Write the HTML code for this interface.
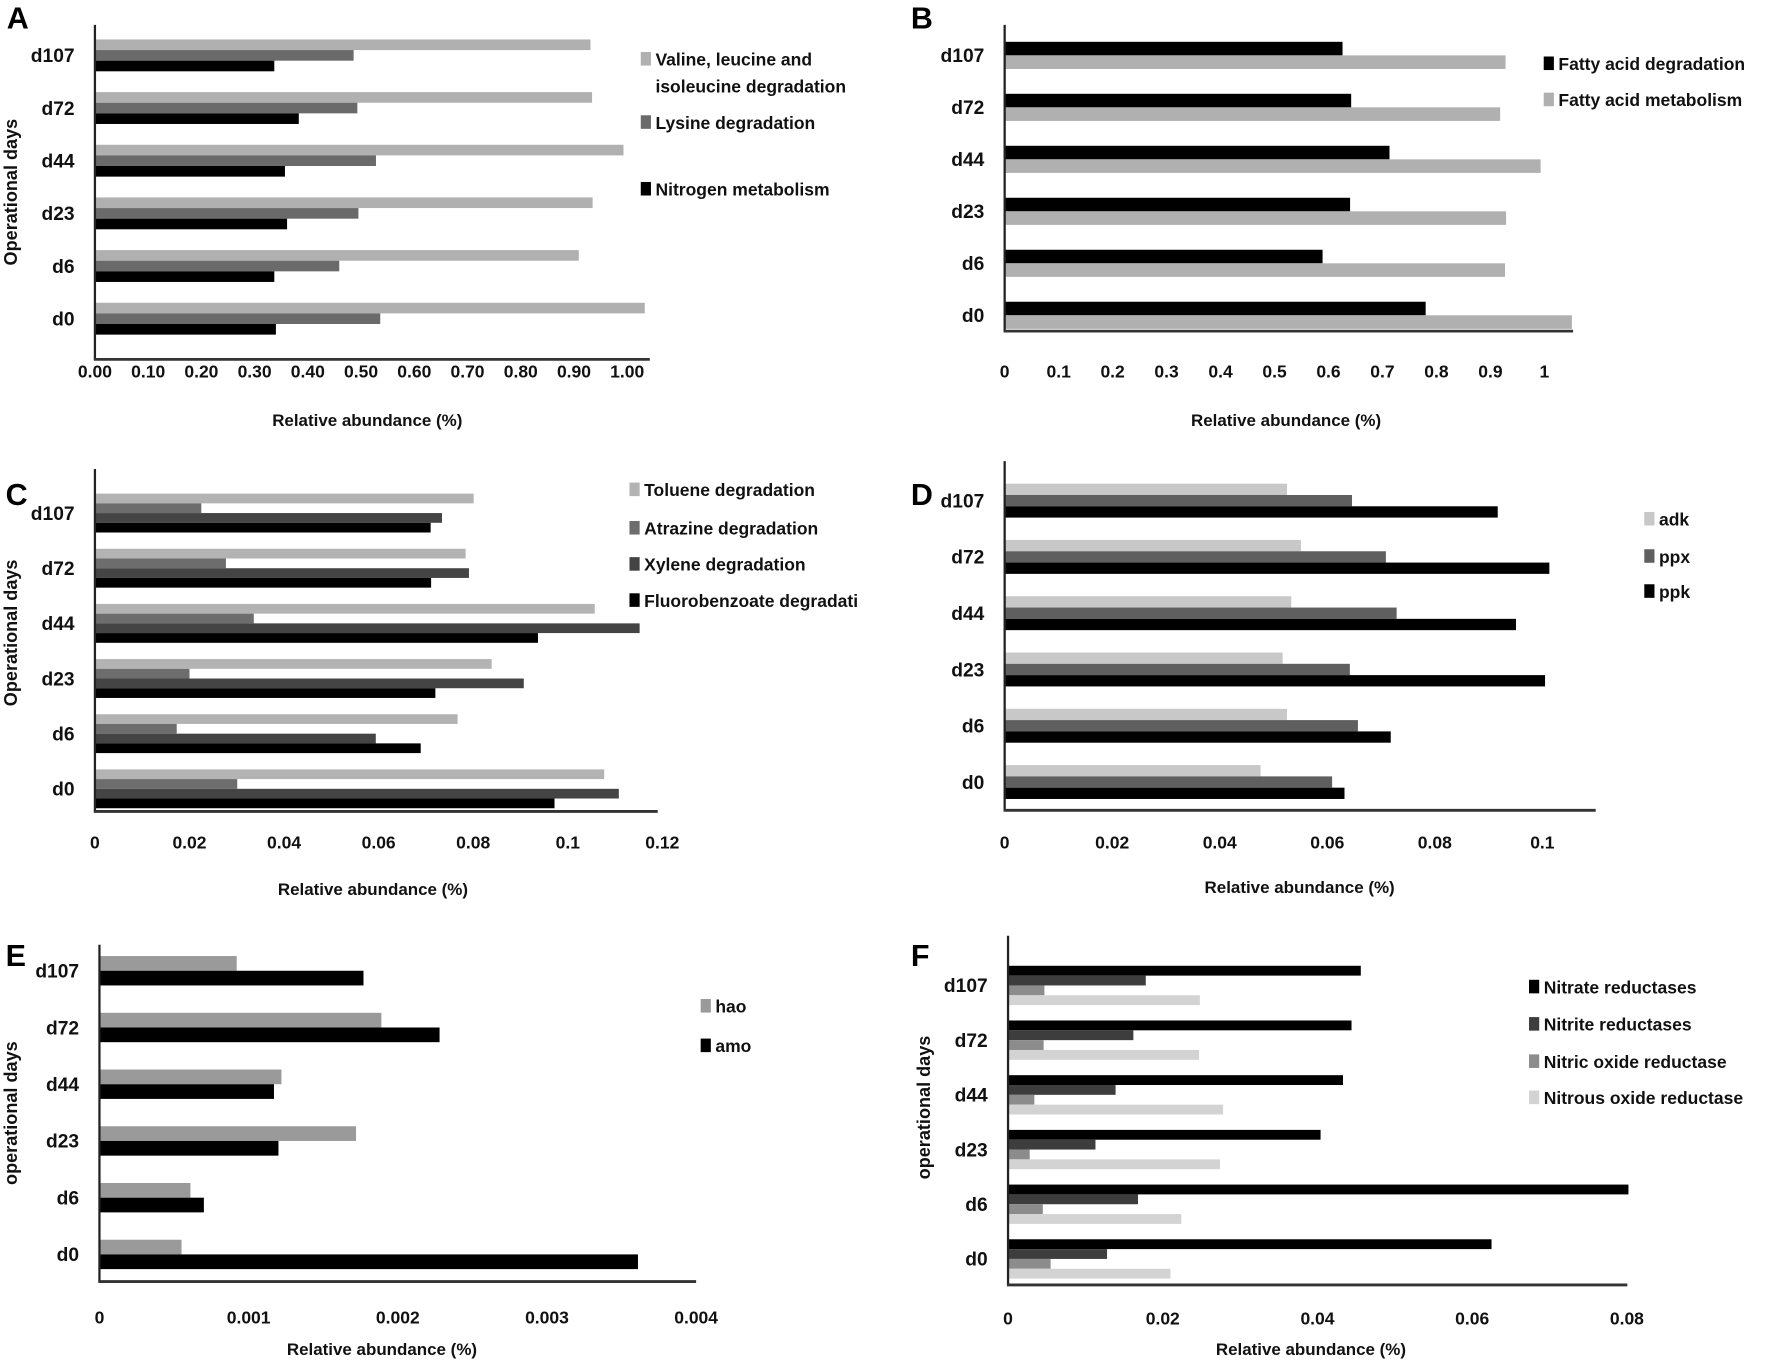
<!DOCTYPE html>
<html><head><meta charset="utf-8"><style>
html,body{margin:0;padding:0;background:#fff;}
svg{display:block;font-family:"Liberation Sans",Arial,sans-serif;font-weight:bold;}
</style></head><body>
<svg id="fig" width="1772" height="1362" viewBox="0 0 1568 1205.2" xmlns="http://www.w3.org/2000/svg"></svg>
<script>
const categories = ["d107","d72","d44","d23","d6","d0"];
// Panel A
const aValine = [0.931,0.934,0.993,0.935,0.909,1.033];
const aLysine = [0.486,0.493,0.528,0.495,0.459,0.536];
const aNitrogen = [0.337,0.383,0.357,0.361,0.337,0.340];
const aTicks = ["0.00","0.10","0.20","0.30","0.40","0.50","0.60","0.70","0.80","0.90","1.00"];
// Panel B
const bFattyDeg = [0.626,0.642,0.713,0.640,0.589,0.780];
const bFattyMet = [0.928,0.918,0.993,0.929,0.927,1.051];
const bTicks = ["0","0.1","0.2","0.3","0.4","0.5","0.6","0.7","0.8","0.9","1"];
// Panel C
const cToluene = [0.0801,0.0784,0.1057,0.0839,0.0767,0.1077];
const cAtrazine = [0.0225,0.0277,0.0336,0.0200,0.0173,0.0301];
const cXylene = [0.0734,0.0791,0.1152,0.0907,0.0594,0.1108];
const cFluoro = [0.0710,0.0711,0.0937,0.0720,0.0689,0.0972];
const cTicks = ["0","0.02","0.04","0.06","0.08","0.1","0.12"];
// Panel D
const dAdk = [0.0525,0.0551,0.0533,0.0517,0.0525,0.0476];
const dPpx = [0.0646,0.0709,0.0729,0.0642,0.0657,0.0609];
const dPpk = [0.0917,0.1013,0.0951,0.1005,0.0718,0.0632];
const dTicks = ["0","0.02","0.04","0.06","0.08","0.1"];
// Panel E
const eHao = [0.00092,0.00189,0.00122,0.00172,0.00061,0.00055];
const eAmo = [0.00177,0.00228,0.00117,0.00120,0.00070,0.00361];
const eTicks = ["0","0.001","0.002","0.003","0.004"];
// Panel F
const fNitrate = [0.0456,0.0444,0.0433,0.0404,0.0802,0.0625];
const fNitrite = [0.0178,0.0162,0.0139,0.0113,0.0168,0.0128];
const fNitric = [0.0047,0.0046,0.0034,0.0028,0.0045,0.0055];
const fNitrous = [0.0248,0.0247,0.0278,0.0274,0.0224,0.0210];

const NS="http://www.w3.org/2000/svg";
const svg=document.getElementById('fig');
function el(tag,attrs,parent){const e=document.createElementNS(NS,tag);for(const k in attrs)e.setAttribute(k,attrs[k]);(parent||svg).appendChild(e);return e;}
function txt(s,attrs,parent){const t=el('text',attrs,parent);t.textContent=s;return t;}

function panel(p){
  const g=el('g',{});
  
  
  const xs=v=>p.x0+v*p.k;
  const l=txt(p.id,{x:p.lx,y:p.ly,'font-size':27,fill:'#000'},g);
  
  
  const ns=p.series.length;
  categories.forEach((c,i)=>{
    const cy=p.c0+i*p.sp;
    const top=cy-ns*p.bh/2;
    p.series.forEach((s,j)=>{
      const r=el('rect',{x:p.x0,y:top+j*p.bh,width:Math.max(0,xs(s.vals[i])-p.x0),height:p.bh,fill:s.color},g);
      
      
    });
    const cl=txt(c,{x:p.x0-18,y:cy+6,'font-size':17,'text-anchor':'end',fill:'#111'},g);
    
    
  });
  const ya=el('line',{x1:p.x0,y1:p.top,x2:p.x0,y2:p.bot,stroke:'#222','stroke-width':2},g);
  
  
  const xa=el('line',{x1:p.x0-1,y1:p.bot,x2:p.xend,y2:p.bot,stroke:'#333','stroke-width':2.5},g);
  
  
  p.ticks.forEach((t,i)=>{
    const tt=txt(t,{x:xs(i*p.step),y:p.ty,'font-size':15.5,'text-anchor':'middle',fill:'#111'},g);
    
    
  });
  const xt=txt('Relative abundance (%)',{x:p.tx,y:p.tty,'font-size':15,'text-anchor':'middle',fill:'#111'},g);
  
  
  if(p.ytitle){
    const yt=txt(p.ytitle,{x:0,y:0,'font-size':16,'text-anchor':'middle',fill:'#111',transform:'translate('+p.yx+','+p.yy+') rotate(-90)'},g);
    
    
  }
  p.legend.forEach(L=>{
    const lg=el('g',{},g);
    
    
    if(L.color) el('rect',{x:p.legx,y:L.y-12,width:9,height:12,fill:L.color},lg);
    txt(L.text,{x:p.legx+13,y:L.y,'font-size':15.5,fill:'#111'},lg);
  });
}

panel({id:'A',lx:6,ly:25,x0:84,k:471,top:22,bot:318,xend:575,c0:49,sp:46.6,bh:9.4,step:0.1,ticks:aTicks,ty:334,tx:325,tty:377,ytitle:'Operational days',yx:15,yy:170,legx:567,
  series:[{key:'valine',vals:aValine,color:'#b0b0b0'},{key:'lysine',vals:aLysine,color:'#6a6a6a'},{key:'nitrogen',vals:aNitrogen,color:'#000'}],
  legend:[{text:'Valine, leucine and',y:58,color:'#b0b0b0'},{text:'isoleucine degradation',y:82},{text:'Lysine degradation',y:114,color:'#6a6a6a'},{text:'Nitrogen metabolism',y:173,color:'#000'}]});
panel({id:'B',lx:806,ly:25,x0:889,k:477.6,top:22,bot:293,xend:1392,c0:49,sp:46,bh:12,step:0.1,ticks:bTicks,ty:334,tx:1138,tty:377,legx:1366,
  series:[{key:'fatty-deg',vals:bFattyDeg,color:'#000'},{key:'fatty-met',vals:bFattyMet,color:'#b0b0b0'}],
  legend:[{text:'Fatty acid degradation',y:62,color:'#000'},{text:'Fatty acid metabolism',y:94,color:'#b0b0b0'}]});
panel({id:'C',lx:5,ly:447,x0:84,k:4184,top:415,bot:718,xend:582,c0:454,sp:48.8,bh:8.6,step:0.02,ticks:cTicks,ty:751,tx:330,tty:792,ytitle:'Operational days',yx:15,yy:560,legx:557,
  series:[{key:'toluene',vals:cToluene,color:'#b3b3b3'},{key:'atrazine',vals:cAtrazine,color:'#6d6d6d'},{key:'xylene',vals:cXylene,color:'#444'},{key:'fluoro',vals:cFluoro,color:'#000'}],
  legend:[{text:'Toluene degradation',y:439,color:'#b3b3b3'},{text:'Atrazine degradation',y:473,color:'#6d6d6d'},{text:'Xylene degradation',y:505,color:'#444'},{text:'Fluorobenzoate degradati',y:537,color:'#000'}]});
panel({id:'D',lx:806,ly:447,x0:889,k:4758,top:408,bot:717,xend:1412,c0:443,sp:49.8,bh:10,step:0.02,ticks:dTicks,ty:751,tx:1150,tty:790,legx:1455,
  series:[{key:'adk',vals:dAdk,color:'#c8c8c8'},{key:'ppx',vals:dPpx,color:'#5f5f5f'},{key:'ppk',vals:dPpk,color:'#000'}],
  legend:[{text:'adk',y:465,color:'#c8c8c8'},{text:'ppx',y:498,color:'#5f5f5f'},{text:'ppk',y:529,color:'#000'}]});
panel({id:'E',lx:5,ly:855,x0:88,k:132000,top:836,bot:1134,xend:616,c0:859,sp:50.2,bh:13,step:0.001,ticks:eTicks,ty:1171,tx:338,tty:1199,ytitle:'operational  days',yx:15,yy:985,legx:620,
  series:[{key:'hao',vals:eHao,color:'#9a9a9a'},{key:'amo',vals:eAmo,color:'#000'}],
  legend:[{text:'hao',y:896,color:'#9a9a9a'},{text:'amo',y:931,color:'#000'}]});
panel({id:'F',lx:806,ly:855,x0:892,k:6845,top:828,bot:1137,xend:1440,c0:872,sp:48.4,bh:8.7,step:0.02,ticks:["0","0.02","0.04","0.06","0.08"],ty:1172,tx:1160,tty:1199,ytitle:'operational  days',yx:823,yy:980,legx:1353,
  series:[{key:'nitrate',vals:fNitrate,color:'#000'},{key:'nitrite',vals:fNitrite,color:'#3d3d3d'},{key:'nitric',vals:fNitric,color:'#8c8c8c'},{key:'nitrous',vals:fNitrous,color:'#d3d3d3'}],
  legend:[{text:'Nitrate reductases',y:879,color:'#000'},{text:'Nitrite reductases',y:912,color:'#3d3d3d'},{text:'Nitric oxide reductase',y:945,color:'#8c8c8c'},{text:'Nitrous oxide reductase',y:977,color:'#d3d3d3'}]});
</script>
</body></html>
